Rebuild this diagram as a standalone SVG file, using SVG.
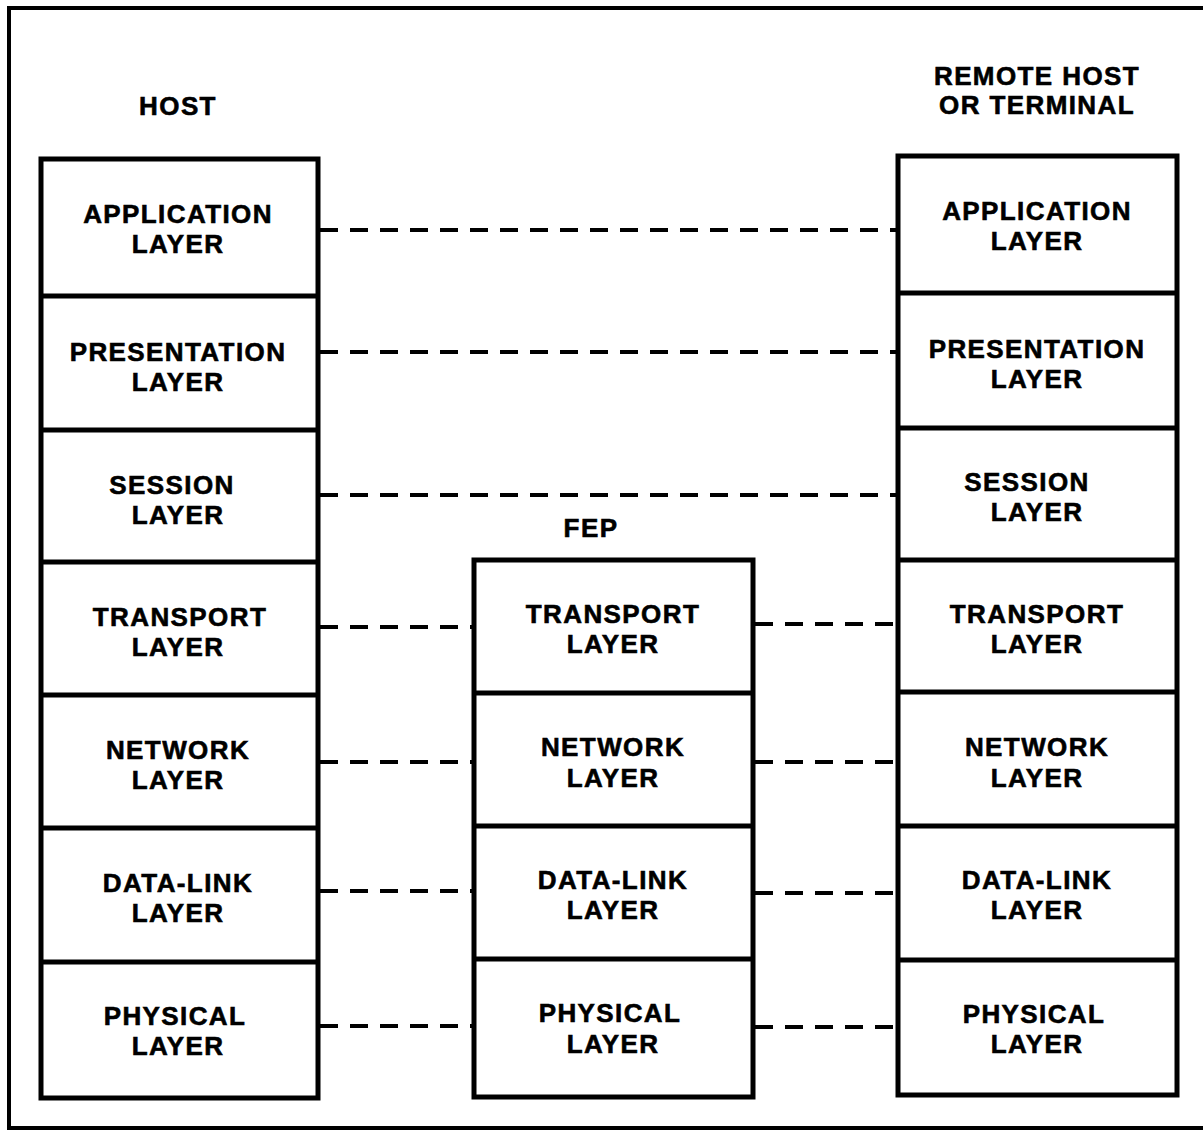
<svg xmlns="http://www.w3.org/2000/svg" width="1203" height="1131" viewBox="0 0 1203 1131">
  <style>
    .frame { fill: none; stroke: #000; stroke-width: 4; }
    .box { fill: #fff; stroke: #000; stroke-width: 5; }
    .div { stroke: #000; stroke-width: 5; }
    .link { stroke: #000; stroke-width: 4; stroke-dasharray: 18 12; fill: none; }
    text { font-family: "Liberation Sans", Arial, sans-serif; font-weight: bold; font-size: 26px; letter-spacing: 1.4px; text-anchor: middle; fill: #000; stroke: #000; stroke-width: 0.6; }
  </style>
  <rect width="1203" height="1131" fill="#fff"/>
  <!-- outer frame, open on the right -->
  <path class="frame" d="M1210,8 H9 V1128 H1210"/>

  <!-- column headings -->
  <g id="host-title"><text x="178" y="115">HOST</text></g>
  <g id="fep-title"><text x="591" y="537">FEP</text></g>
  <g id="remote-title">
    <text x="1037" y="85">REMOTE HOST</text>
    <text x="1037" y="114">OR TERMINAL</text>
  </g>

  <!-- host stack -->
  <g id="host">
    <rect class="box" x="41" y="159" width="277" height="939"/>
    <line class="div" x1="41" y1="296" x2="318" y2="296"/>
    <line class="div" x1="41" y1="430" x2="318" y2="430"/>
    <line class="div" x1="41" y1="562" x2="318" y2="562"/>
    <line class="div" x1="41" y1="695" x2="318" y2="695"/>
    <line class="div" x1="41" y1="828" x2="318" y2="828"/>
    <line class="div" x1="41" y1="962" x2="318" y2="962"/>
    <g id="host-application"><text x="178" y="223">APPLICATION</text><text x="178" y="253">LAYER</text></g>
    <g id="host-presentation"><text x="178" y="361">PRESENTATION</text><text x="178" y="391">LAYER</text></g>
    <g id="host-session"><text x="172" y="494">SESSION</text><text x="178" y="524">LAYER</text></g>
    <g id="host-transport"><text x="180" y="626">TRANSPORT</text><text x="178" y="656">LAYER</text></g>
    <g id="host-network"><text x="178" y="759">NETWORK</text><text x="178" y="789">LAYER</text></g>
    <g id="host-datalink"><text x="178" y="892">DATA-LINK</text><text x="178" y="922">LAYER</text></g>
    <g id="host-physical"><text x="175" y="1025">PHYSICAL</text><text x="178" y="1055">LAYER</text></g>
  </g>

  <!-- front-end processor stack -->
  <g id="fep">
    <rect class="box" x="474" y="560" width="279" height="537"/>
    <line class="div" x1="474" y1="693" x2="753" y2="693"/>
    <line class="div" x1="474" y1="826" x2="753" y2="826"/>
    <line class="div" x1="474" y1="959" x2="753" y2="959"/>
    <g id="fep-transport"><text x="613" y="623">TRANSPORT</text><text x="613" y="653">LAYER</text></g>
    <g id="fep-network"><text x="613" y="756">NETWORK</text><text x="613" y="787">LAYER</text></g>
    <g id="fep-datalink"><text x="613" y="889">DATA-LINK</text><text x="613" y="919">LAYER</text></g>
    <g id="fep-physical"><text x="610" y="1022">PHYSICAL</text><text x="613" y="1053">LAYER</text></g>
  </g>

  <!-- remote host / terminal stack -->
  <g id="remote">
    <rect class="box" x="898" y="156" width="279" height="939"/>
    <line class="div" x1="898" y1="293" x2="1177" y2="293"/>
    <line class="div" x1="898" y1="428" x2="1177" y2="428"/>
    <line class="div" x1="898" y1="560" x2="1177" y2="560"/>
    <line class="div" x1="898" y1="692" x2="1177" y2="692"/>
    <line class="div" x1="898" y1="826" x2="1177" y2="826"/>
    <line class="div" x1="898" y1="960" x2="1177" y2="960"/>
    <g id="remote-application"><text x="1037" y="220">APPLICATION</text><text x="1037" y="250">LAYER</text></g>
    <g id="remote-presentation"><text x="1037" y="358">PRESENTATION</text><text x="1037" y="388">LAYER</text></g>
    <g id="remote-session"><text x="1027" y="491">SESSION</text><text x="1037" y="521">LAYER</text></g>
    <g id="remote-transport"><text x="1037" y="623">TRANSPORT</text><text x="1037" y="653">LAYER</text></g>
    <g id="remote-network"><text x="1037" y="756">NETWORK</text><text x="1037" y="787">LAYER</text></g>
    <g id="remote-datalink"><text x="1037" y="889">DATA-LINK</text><text x="1037" y="919">LAYER</text></g>
    <g id="remote-physical"><text x="1034" y="1023">PHYSICAL</text><text x="1037" y="1053">LAYER</text></g>
  </g>

  <!-- peer-to-peer protocol links -->
  <g id="connectors">
    <line class="link" x1="320" y1="230" x2="896" y2="230"/>
    <line class="link" x1="320" y1="352" x2="896" y2="352"/>
    <line class="link" x1="320" y1="495" x2="896" y2="495"/>
    <line class="link" x1="320" y1="627" x2="472" y2="627"/>
    <line class="link" x1="755" y1="624" x2="896" y2="624"/>
    <line class="link" x1="320" y1="762" x2="472" y2="762"/>
    <line class="link" x1="755" y1="762" x2="896" y2="762"/>
    <line class="link" x1="320" y1="891" x2="472" y2="891"/>
    <line class="link" x1="755" y1="893" x2="896" y2="893"/>
    <line class="link" x1="320" y1="1026" x2="472" y2="1026"/>
    <line class="link" x1="755" y1="1027" x2="896" y2="1027"/>
  </g>
</svg>
